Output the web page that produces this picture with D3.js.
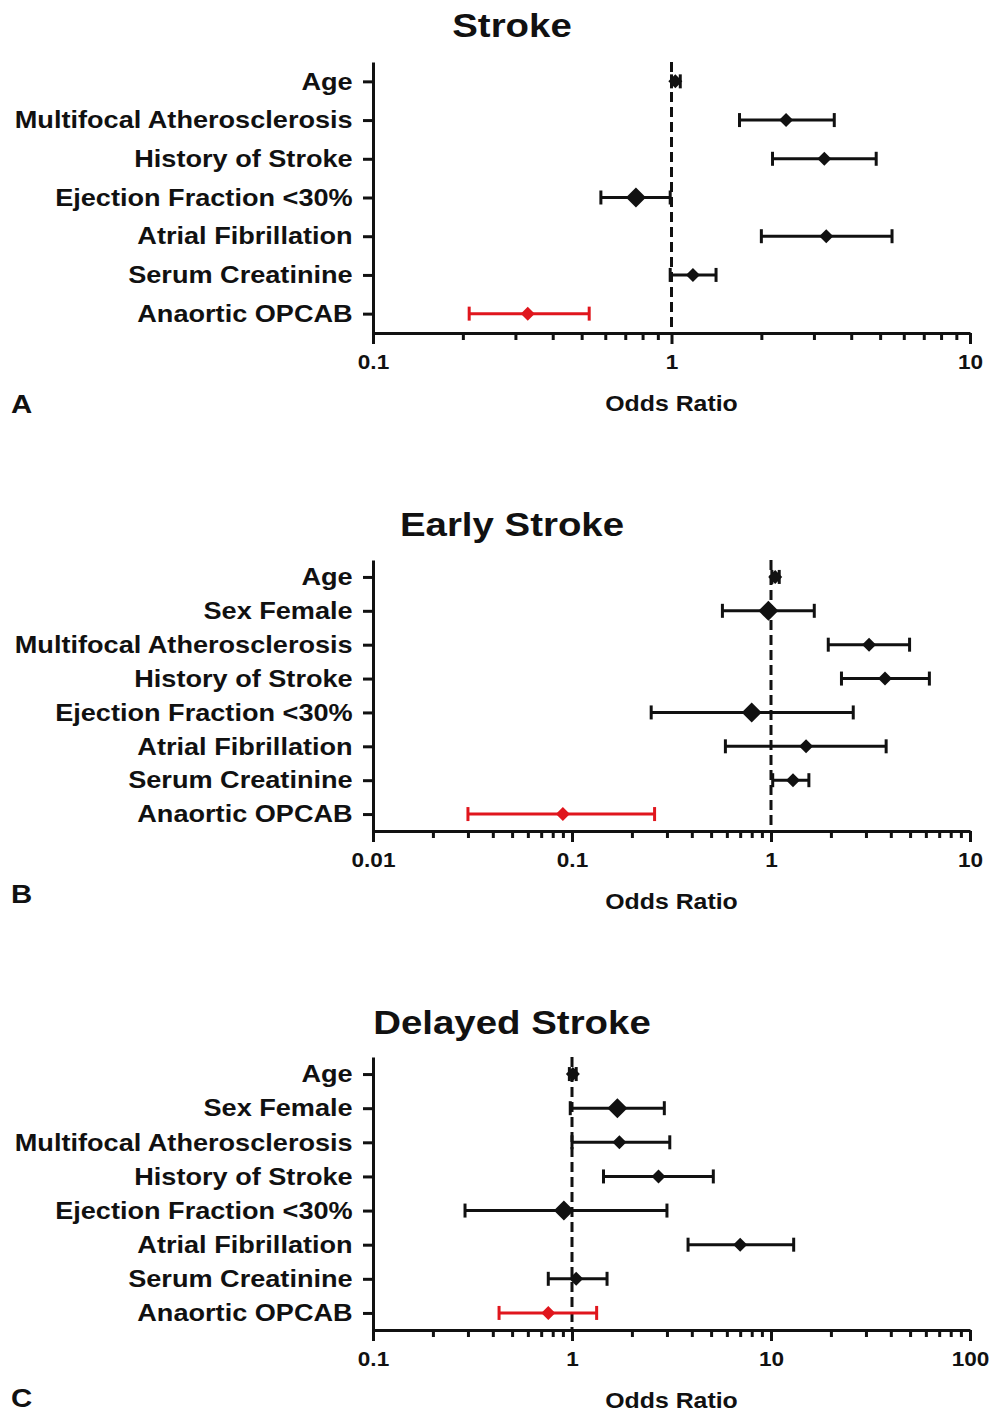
<!DOCTYPE html>
<html>
<head>
<meta charset="utf-8">
<script src="https://cdn.jsdelivr.net/npm/d3@7"></script>
<style>
  body { margin: 0; background: #fff; }
  text { font-family: "Liberation Sans", Arial, sans-serif; font-weight: bold; fill: #111; }
</style>
</head>
<body>
<div id="chart"></div>
<script>
var svgWidth = 993;
var svgHeight = 1414;

// Panel A - Stroke
var strokeLabels = ["Age", "Multifocal Atherosclerosis", "History of Stroke", "Ejection Fraction <30%",
  "Atrial Fibrillation", "Serum Creatinine", "Anaortic OPCAB"];
var strokeOR   = [1.03, 2.42, 3.25, 0.76, 3.30, 1.18, 0.33];
var strokeLow  = [1.00, 1.69, 2.18, 0.58, 2.00, 0.99, 0.21];
var strokeHigh = [1.07, 3.51, 4.85, 0.99, 5.48, 1.41, 0.53];
var strokeTickLabels = ["0.1", "1", "10"];

// Panel B - Early Stroke
var earlyLabels = ["Age", "Sex Female", "Multifocal Atherosclerosis", "History of Stroke",
  "Ejection Fraction <30%", "Atrial Fibrillation", "Serum Creatinine", "Anaortic OPCAB"];
var earlyOR   = [1.05, 0.97, 3.11, 3.74, 0.80, 1.50, 1.29, 0.09];
var earlyLow  = [1.01, 0.57, 1.94, 2.26, 0.25, 0.59, 1.02, 0.03];
var earlyHigh = [1.10, 1.65, 4.97, 6.25, 2.59, 3.79, 1.55, 0.26];
var earlyTickLabels = ["0.01", "0.1", "1", "10"];

// Panel C - Delayed Stroke
var delayedLabels = ["Age", "Sex Female", "Multifocal Atherosclerosis", "History of Stroke",
  "Ejection Fraction <30%", "Atrial Fibrillation", "Serum Creatinine", "Anaortic OPCAB"];
var delayedOR   = [1.01, 1.69, 1.73, 2.72, 0.91, 7.00, 1.05, 0.76];
var delayedLow  = [0.97, 0.98, 1.00, 1.44, 0.29, 3.83, 0.76, 0.43];
var delayedHigh = [1.05, 2.91, 3.10, 5.13, 3.00, 13.0, 1.50, 1.33];
var delayedTickLabels = ["0.1", "1", "10", "100"];

// layout / style per panel
var panels = [
  { title: "Stroke", letter: "A", labels: strokeLabels, or: strokeOR, lo: strokeLow, hi: strokeHigh,
    tickLabels: strokeTickLabels, top: 62, axisY: 333, titleY: 37, letterY: 413,
    big: ["Ejection Fraction <30%"] },
  { title: "Early Stroke", letter: "B", labels: earlyLabels, or: earlyOR, lo: earlyLow, hi: earlyHigh,
    tickLabels: earlyTickLabels, top: 560, axisY: 831, titleY: 536, letterY: 903,
    big: ["Sex Female", "Ejection Fraction <30%"] },
  { title: "Delayed Stroke", letter: "C", labels: delayedLabels, or: delayedOR, lo: delayedLow, hi: delayedHigh,
    tickLabels: delayedTickLabels, top: 1057, axisY: 1330, titleY: 1034, letterY: 1407,
    big: ["Sex Female", "Ejection Fraction <30%"] }
];

var plotLeft = 373, plotRight = 970;
var sx = 1.13;           // horizontal stretch of the lettering
var ink = "#111";
var red = "#e0161d";
var lw = 3;

var svg = d3.select("#chart")
  .append("svg")
  .attr("width", svgWidth)
  .attr("height", svgHeight);

svg.append("rect")
  .attr("width", "100%")
  .attr("height", "100%")
  .attr("fill", "#fff");

function diamond(r) {
  return "M0," + (-r) + "L" + r + ",0L0," + r + "L" + (-r) + ",0Z";
}

panels.forEach(function(p) {
  var majors = p.tickLabels.map(Number);
  var x = d3.scaleLog()
    .domain([majors[0], majors[majors.length - 1]])
    .range([plotLeft, plotRight]);
  var y = d3.scalePoint()
    .domain(p.labels)
    .range([p.top, p.axisY])
    .padding(0.5);

  var g = svg.append("g");

  // title
  g.append("text")
    .attr("transform", `translate(512, ${p.titleY}) scale(${sx},1)`)
    .attr("text-anchor", "middle")
    .style("font-size", "34px")
    .text(p.title);

  // x axis with minor ticks
  function isMajor(d) {
    var l = Math.log10(d);
    return Math.abs(l - Math.round(l)) < 1e-6;
  }
  var xAxis = d3.axisBottom(x)
    .tickValues(x.ticks())
    .tickSize(11)
    .tickPadding(11)
    .tickSizeOuter(0)
    .tickFormat(function(d) {
      if (!isMajor(d)) return "";
      var i = majors.findIndex(m => Math.abs(Math.log10(m) - Math.log10(d)) < 1e-6);
      return i >= 0 ? p.tickLabels[i] : "";
    });

  var gx = g.append("g")
    .attr("transform", `translate(0, ${p.axisY})`)
    .attr("color", ink)
    .call(xAxis);
  gx.selectAll("path, line").attr("stroke-width", lw);
  gx.selectAll(".tick").filter(d => !isMajor(d)).select("line").attr("y2", 7);
  gx.selectAll("text")
    .attr("transform", `scale(${sx},1)`)
    .style("font-size", "20px")
    .style("font-family", "'Liberation Sans', Arial, sans-serif")
    .style("font-weight", "bold")
    .attr("fill", ink);

  // y axis
  var yAxis = d3.axisLeft(y)
    .tickSize(10)
    .tickPadding(8)
    .tickSizeOuter(0);
  var gy = g.append("g")
    .attr("transform", `translate(${plotLeft}, 0)`)
    .attr("color", ink)
    .call(yAxis);
  gy.selectAll("path, line").attr("stroke-width", lw);
  gy.selectAll("text")
    .attr("transform", `scale(${sx},1)`)
    .style("font-size", "24px")
    .style("font-family", "'Liberation Sans', Arial, sans-serif")
    .style("font-weight", "bold")
    .attr("fill", ink);

  // reference line at OR = 1
  g.append("line")
    .attr("x1", x(1)).attr("x2", x(1))
    .attr("y1", p.top).attr("y2", p.axisY)
    .attr("stroke", ink)
    .attr("stroke-width", lw)
    .attr("stroke-dasharray", "10,5");

  // error bars and markers
  var rows = p.labels.map(function(l, i) {
    return { label: l, or: p.or[i], lo: p.lo[i], hi: p.hi[i] };
  });

  var rg = g.selectAll(".row")
    .data(rows)
    .enter()
    .append("g")
    .attr("class", "row")
    .attr("stroke", d => d.label === "Anaortic OPCAB" ? red : ink)
    .attr("fill", d => d.label === "Anaortic OPCAB" ? red : ink)
    .attr("stroke-width", lw);

  rg.append("line")
    .attr("x1", d => x(d.lo)).attr("x2", d => x(d.hi))
    .attr("y1", d => y(d.label)).attr("y2", d => y(d.label));
  rg.append("line")
    .attr("x1", d => x(d.lo)).attr("x2", d => x(d.lo))
    .attr("y1", d => y(d.label) - 7).attr("y2", d => y(d.label) + 7);
  rg.append("line")
    .attr("x1", d => x(d.hi)).attr("x2", d => x(d.hi))
    .attr("y1", d => y(d.label) - 7).attr("y2", d => y(d.label) + 7);
  rg.append("path")
    .attr("stroke", "none")
    .attr("transform", d => `translate(${x(d.or)}, ${y(d.label)})`)
    .attr("d", d => diamond(p.big.indexOf(d.label) >= 0 ? 10 : 7));

  // axis title and panel letter
  g.append("text")
    .attr("transform", `translate(${(plotLeft + plotRight) / 2}, ${p.axisY + 78}) scale(${sx},1)`)
    .attr("text-anchor", "middle")
    .style("font-size", "22px")
    .text("Odds Ratio");

  g.append("text")
    .attr("transform", `translate(11, ${p.letterY}) scale(${sx},1)`)
    .style("font-size", "26px")
    .text(p.letter);
});
</script>
</body>
</html>
